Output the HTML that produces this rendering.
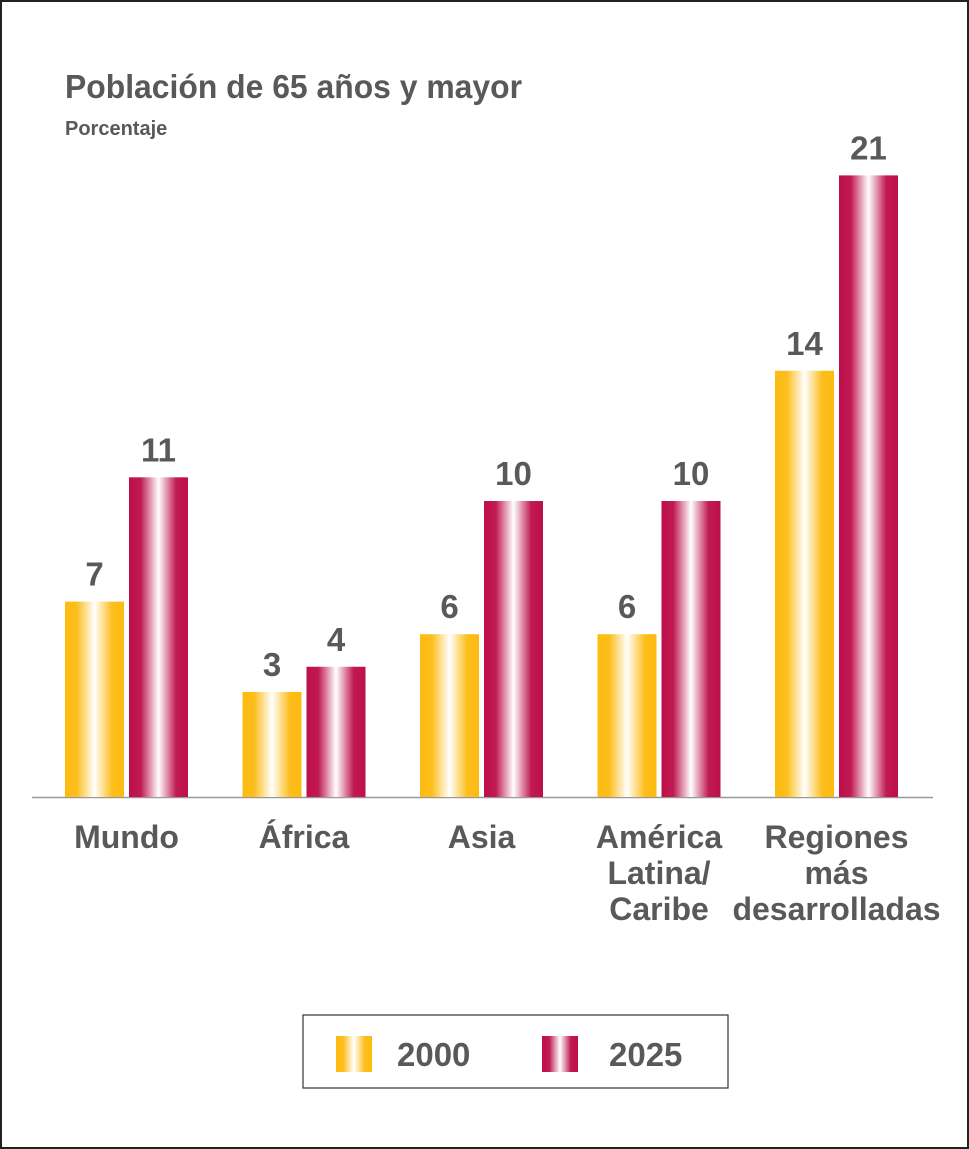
<!DOCTYPE html>
<html><head><meta charset="utf-8"><style>
body{margin:0;background:#fff;}
svg{display:block;font-family:"Liberation Sans",sans-serif;}
</style></head><body>
<svg id="c" width="969" height="1149" viewBox="0 0 969 1149">
<defs>
<linearGradient id="gy" x1="0" x2="1" y1="0" y2="0">
<stop offset="0" stop-color="#fdbb10"/><stop offset="0.2" stop-color="#fdbe1c"/><stop offset="0.5" stop-color="#ffffff"/><stop offset="0.8" stop-color="#fdbe1c"/><stop offset="1" stop-color="#fdbb10"/>
</linearGradient>
<linearGradient id="gr" x1="0" x2="1" y1="0" y2="0">
<stop offset="0" stop-color="#be0f4a"/><stop offset="0.2" stop-color="#c01a52"/><stop offset="0.5" stop-color="#ffffff"/><stop offset="0.8" stop-color="#c01a52"/><stop offset="1" stop-color="#be0f4a"/>
</linearGradient>
</defs>
<rect x="1" y="1" width="967" height="1147" fill="#fff" stroke="#222" stroke-width="2"/>
<text x="65" y="98" font-size="33" font-weight="bold" fill="#58595b" textLength="457" lengthAdjust="spacingAndGlyphs">Población de 65 años y mayor</text>
<text x="65" y="135" font-size="20" font-weight="bold" fill="#58595b">Porcentaje</text>
<line x1="32" y1="797.5" x2="933" y2="797.5" stroke="#999" stroke-width="1.5"/>
<g id="bars"></g>
<g id="labels"></g>
<rect x="303" y="1015" width="425" height="73" fill="#fff" stroke="#333" stroke-width="1.2"/>
<rect x="336" y="1036" width="36" height="36" fill="url(#gy)"/>
<text x="397" y="1066" font-size="33" font-weight="bold" fill="#58595b">2000</text>
<rect x="542" y="1036" width="36" height="36" fill="url(#gr)"/>
<text x="609" y="1066" font-size="33" font-weight="bold" fill="#58595b">2025</text>
</svg>
<script>
const categories=[["Mundo"],["África"],["Asia"],["América","Latina/","Caribe"],["Regiones","más","desarrolladas"]];
const values2000=[6.6,3.55,5.5,5.5,14.4];
const values2025=[10.8,4.4,10.0,10.0,21.0];
const labels2000=["7","3","6","6","14"];
const labels2025=["11","4","10","10","21"];
const NS="http://www.w3.org/2000/svg";
const base=797,k=29.6,x0=126.5,step=177.5,bw=59,gap=5;
function y(v){return base-v*k;}
function cx(i){return x0+i*step;}
const bars=document.getElementById('bars'),lab=document.getElementById('labels');
function mk(tag,attrs,parent){const e=document.createElementNS(NS,tag);for(const a in attrs)e.setAttribute(a,attrs[a]);parent.appendChild(e);return e;}
categories.forEach((c,i)=>{
  [[values2000,labels2000,'url(#gy)',cx(i)-gap/2-bw,'2000'],[values2025,labels2025,'url(#gr)',cx(i)+gap/2,'2025']].forEach(([vals,ls,fill,x,yr])=>{
    const r=mk('rect',{x:x,y:y(vals[i]),width:bw,height:vals[i]*k,fill:fill},bars);
    
    
    const t=mk('text',{x:x+bw/2,y:y(vals[i])-16,'text-anchor':'middle','font-size':33,'font-weight':'bold',fill:'#58595b'},lab);
    t.textContent=ls[i];
    
    
  });
  c.forEach((line,j)=>{
    const t=mk('text',{x:cx(i),y:848+j*36,'text-anchor':'middle','font-size':32,'font-weight':'bold',fill:'#58595b'},lab);
    t.textContent=line;
    
    
  });
});
</script>
</body></html>
